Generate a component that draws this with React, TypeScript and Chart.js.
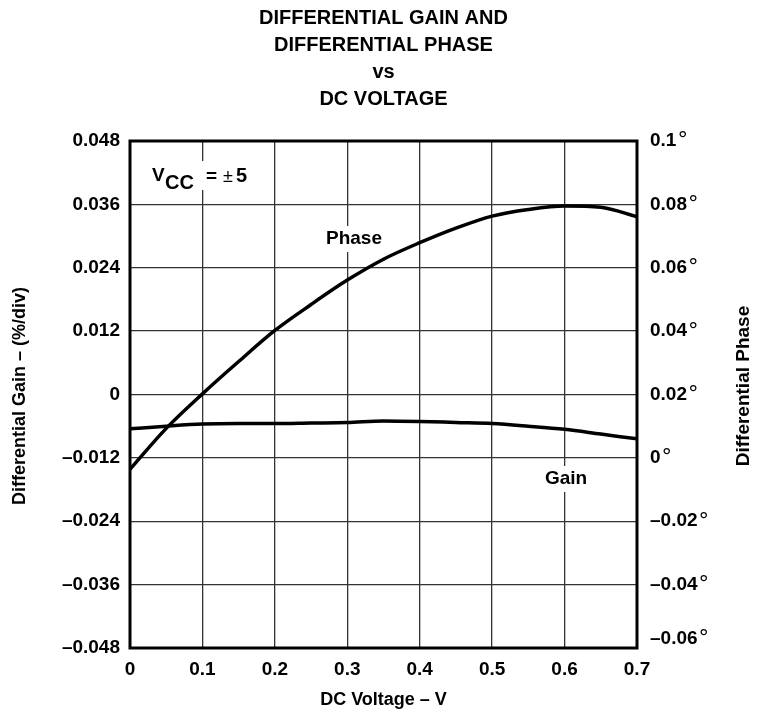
import React, { useEffect, useRef } from "react";
import { Chart, registerables } from "chart.js";

Chart.register(...registerables);

const voltage = [0, 0.05, 0.1, 0.15, 0.2, 0.25, 0.3, 0.35, 0.4, 0.45, 0.5, 0.55, 0.6, 0.65, 0.7];
const gain = [-0.0065, -0.006, -0.0056, -0.0055, -0.0055, -0.0054, -0.0053, -0.005, -0.0051, -0.0053, -0.0055, -0.006, -0.0066, -0.0075, -0.0084];
const phase = [-0.0036, 0.0093, 0.0202, 0.0304, 0.0402, 0.0484, 0.0561, 0.0627, 0.0679, 0.0725, 0.0763, 0.0784, 0.0795, 0.0791, 0.0761];

const xTickValues = [0, 0.1, 0.2, 0.3, 0.4, 0.5, 0.6, 0.7];
const xTickLabels = ["0", "0.1", "0.2", "0.3", "0.4", "0.5", "0.6", "0.7"];
const yTickValues = [-0.048, -0.036, -0.024, -0.012, 0, 0.012, 0.024, 0.036, 0.048];
const yTickLabels = ["–0.048", "–0.036", "–0.024", "–0.012", "0", "0.012", "0.024", "0.036", "0.048"];
const y2TickValues = [-0.06, -0.04, -0.02, 0, 0.02, 0.04, 0.06, 0.08, 0.1];
const y2TickLabels = ["–0.06", "–0.04", "–0.02", "0", "0.02", "0.04", "0.06", "0.08", "0.1"];

const titleLines = ["DIFFERENTIAL GAIN AND", "DIFFERENTIAL PHASE", "vs", "DC VOLTAGE"];
const xTitle = "DC Voltage – V";
const yTitle = "Differential Gain – (%/div)";
const y2Title = "Differential Phase";

const FONT = "'Liberation Sans', Arial, Helvetica, sans-serif";

export default function App() {
  const ref = useRef<HTMLCanvasElement | null>(null);

  useEffect(() => {
    if (!ref.current) return;
    const decor = {
      id: "decor",
      beforeDatasetsDraw(chart: any) {
        const ctx = chart.ctx;
        ctx.save();
        ctx.fillStyle = "#fff";
        ctx.fillRect(150, 161, 100, 29);
        ctx.fillRect(318, 226, 72, 26);
        ctx.fillRect(539, 466, 55, 26);
        ctx.fillStyle = "#000";
        ctx.textBaseline = "alphabetic";
        ctx.textAlign = "left";
        ctx.font = `bold 19px ${FONT}`;
        ctx.fillText("V", 152, 181);
        ctx.font = `bold 20px ${FONT}`;
        ctx.fillText("CC", 165, 189);
        ctx.font = `bold 19px ${FONT}`;
        ctx.fillText("=", 206, 182);
        ctx.font = `18px ${FONT}`;
        ctx.fillText("±", 223, 182);
        ctx.font = `bold 20px ${FONT}`;
        ctx.fillText("5", 236, 182);
        ctx.textAlign = "center";
        ctx.textBaseline = "middle";
        ctx.font = `bold 19px ${FONT}`;
        ctx.fillText("Phase", 354, 239);
        ctx.fillText("Gain", 566, 479);
        ctx.restore();
      },
      afterDraw(chart: any) {
        const ctx = chart.ctx;
        const a = chart.chartArea;
        ctx.save();
        ctx.strokeStyle = "#000";
        ctx.lineWidth = 3;
        ctx.strokeRect(a.left, a.top, a.right - a.left, a.bottom - a.top);
        ctx.fillStyle = "#000";

        // right axis labels with degree marks
        const s2 = chart.scales.y2;
        ctx.textBaseline = "middle";
        y2TickValues.forEach((v, i) => {
          let y = s2.getPixelForValue(v);
          if (i === 0) y -= 9;
          ctx.textAlign = "left";
          ctx.font = `bold 19px ${FONT}`;
          const lbl = y2TickLabels[i];
          const w = ctx.measureText(lbl).width;
          const x0 = a.right + 13;
          ctx.fillText(lbl, x0, y);
          ctx.font = `21px 'DejaVu Sans', sans-serif`;
          ctx.fillText("°", x0 + w + 1, y + 1);
        });

        ctx.textAlign = "center";
        ctx.font = `bold 20px ${FONT}`;
        const cx = (a.left + a.right) / 2;
        titleLines.forEach((t, i) => ctx.fillText(t, cx, 18 + i * 27));
        ctx.font = `bold 18px ${FONT}`;
        ctx.fillText(xTitle, cx, 700);
        ctx.save();
        ctx.translate(20, 396);
        ctx.rotate(-Math.PI / 2);
        ctx.fillText(yTitle, 0, 0);
        ctx.restore();
        ctx.save();
        ctx.translate(744, 386);
        ctx.rotate(-Math.PI / 2);
        ctx.font = `bold 19px ${FONT}`;
        ctx.fillText(y2Title, 0, 0);
        ctx.restore();
        ctx.restore();
      },
    };

    const gridOpts = { color: "#333", lineWidth: 1.3, drawTicks: false };
    const tickFont = { family: FONT, size: 19, weight: "bold" as const };

    const chart = new Chart(ref.current, {
      type: "line",
      data: {
        datasets: [
          {
            label: "Gain",
            data: voltage.map((v, i) => ({ x: v, y: gain[i] })),
            yAxisID: "y",
            borderColor: "#000",
            borderWidth: 3.5,
            pointRadius: 0,
            cubicInterpolationMode: "monotone",
          },
          {
            label: "Phase",
            data: voltage.map((v, i) => ({ x: v, y: phase[i] })),
            yAxisID: "y2",
            borderColor: "#000",
            borderWidth: 3.5,
            pointRadius: 0,
            cubicInterpolationMode: "monotone",
          },
        ],
      },
      options: {
        animation: false,
        responsive: false,
        devicePixelRatio: 1,
        layout: { padding: { top: 141, left: 0, right: 0, bottom: 0 } },
        plugins: { legend: { display: false }, tooltip: { enabled: false }, title: { display: false } },
        scales: {
          x: {
            type: "linear",
            min: 0,
            max: 0.7,
            afterBuildTicks: (s: any) => { s.ticks = xTickValues.map((v) => ({ value: v })); },
            afterFit: (s: any) => { s.height = 69; },
            ticks: {
              color: "#000",
              font: tickFont,
              padding: 10,
              maxRotation: 0,
              autoSkip: false,
              callback: (_v: any, i: number) => xTickLabels[i],
            },
            grid: gridOpts,
            border: { display: false },
          },
          y: {
            type: "linear",
            position: "left",
            min: -0.048,
            max: 0.048,
            afterBuildTicks: (s: any) => { s.ticks = yTickValues.map((v) => ({ value: v })); },
            afterFit: (s: any) => { s.width = 130; },
            ticks: {
              color: "#000",
              font: tickFont,
              padding: 10,
              autoSkip: false,
              callback: (_v: any, i: number) => yTickLabels[i],
            },
            grid: gridOpts,
            border: { display: false },
          },
          y2: {
            type: "linear",
            position: "right",
            min: -0.06,
            max: 0.1,
            afterBuildTicks: (s: any) => { s.ticks = y2TickValues.map((v) => ({ value: v })); },
            afterFit: (s: any) => { s.width = 122; },
            ticks: { display: false },
            grid: { display: false, drawTicks: false },
            border: { display: false },
          },
        },
      },
      plugins: [decor],
    });
    return () => chart.destroy();
  }, []);

  return (
    <div style={{ position: "absolute", left: 0, top: 0, width: 759, height: 717, background: "#fff" }}>
      <canvas ref={ref} width={759} height={717} style={{ width: 759, height: 717 }} />
    </div>
  );
}
